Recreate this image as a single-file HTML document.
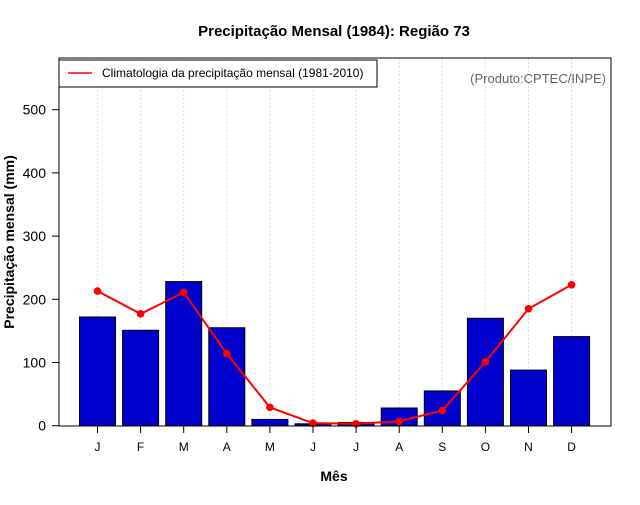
<!DOCTYPE html>
<html><head><meta charset="utf-8"><style>
body{margin:0;background:#fff}
svg text{font-family:"Liberation Sans",sans-serif}
</style></head><body>
<svg id="c" width="640" height="500" xmlns="http://www.w3.org/2000/svg">
<rect width="640" height="500" fill="#fff"/>
<text x="334" y="36" text-anchor="middle" font-size="15" font-weight="bold">Precipitação Mensal (1984): Região 73</text>
<text x="334" y="481" text-anchor="middle" font-size="14" font-weight="bold">Mês</text>
<text transform="translate(14,242) rotate(-90)" text-anchor="middle" font-size="14" font-weight="bold">Precipitação mensal (mm)</text>
<g id="grid"></g><g id="bars"></g><g id="line"></g><g id="axes"></g>
<rect x="59" y="58" width="552" height="368" fill="none" stroke="#000" stroke-width="1"/>
<g>
<rect x="59" y="60" width="318" height="27" fill="#fff" stroke="#000"/>
<line x1="68" y1="73" x2="92" y2="73" stroke="#f00" stroke-width="1.5"/>
<text x="102" y="77" font-size="12">Climatologia da precipitação mensal (1981-2010)</text>
</g>
<text x="606" y="83" text-anchor="end" font-size="13" fill="#666">(Produto:CPTEC/INPE)</text>
</svg>
<script>
const months=["J","F","M","A","M","J","J","A","S","O","N","D"];
const precip=[172,151,228,155,10,3,5,28,55,170,88,141];
const clim=[213,177,211,114,29,4,3,7,24,101,185,223];
const yTicks=[0,100,200,300,400,500];
const NS="http://www.w3.org/2000/svg";
const x=i=>97.5+i*43.1;
const y=v=>425.7-v*0.632;
function mk(t,a,p){const e=document.createElementNS(NS,t);for(const k in a)e.setAttribute(k,a[k]);document.getElementById(p).appendChild(e);return e;}
months.forEach((m,i)=>{
 const g=mk("line",{x1:x(i),x2:x(i),y1:58,y2:426,stroke:"#ddd","stroke-dasharray":"2,2"},"grid");
 
 
 const b=mk("rect",{x:x(i)-18,y:y(precip[i]),width:36,height:425.7-y(precip[i]),fill:"#0000cd",stroke:"#000","stroke-width":1},"bars");
 
 
 const t=mk("line",{x1:x(i),x2:x(i),y1:426,y2:433,stroke:"#000"},"axes");
 
 
 const l=mk("text",{x:x(i),y:451,"text-anchor":"middle","font-size":12},"axes");
 l.textContent=m;
 
 
});
const pl=mk("polyline",{points:clim.map((v,i)=>x(i)+","+y(v)).join(" "),fill:"none",stroke:"#f00","stroke-width":2},"line");


clim.forEach((v,i)=>{
 const c=mk("circle",{cx:x(i),cy:y(v),r:3.8,fill:"#f00"},"line");
 
 
});
yTicks.forEach(v=>{
 const t=mk("line",{x1:52,x2:59,y1:y(v),y2:y(v),stroke:"#000"},"axes");
 
 
 const l=mk("text",{x:46,y:y(v)+5,"text-anchor":"end","font-size":14},"axes");
 l.textContent=v;
 
 
});
</script>
</body></html>
